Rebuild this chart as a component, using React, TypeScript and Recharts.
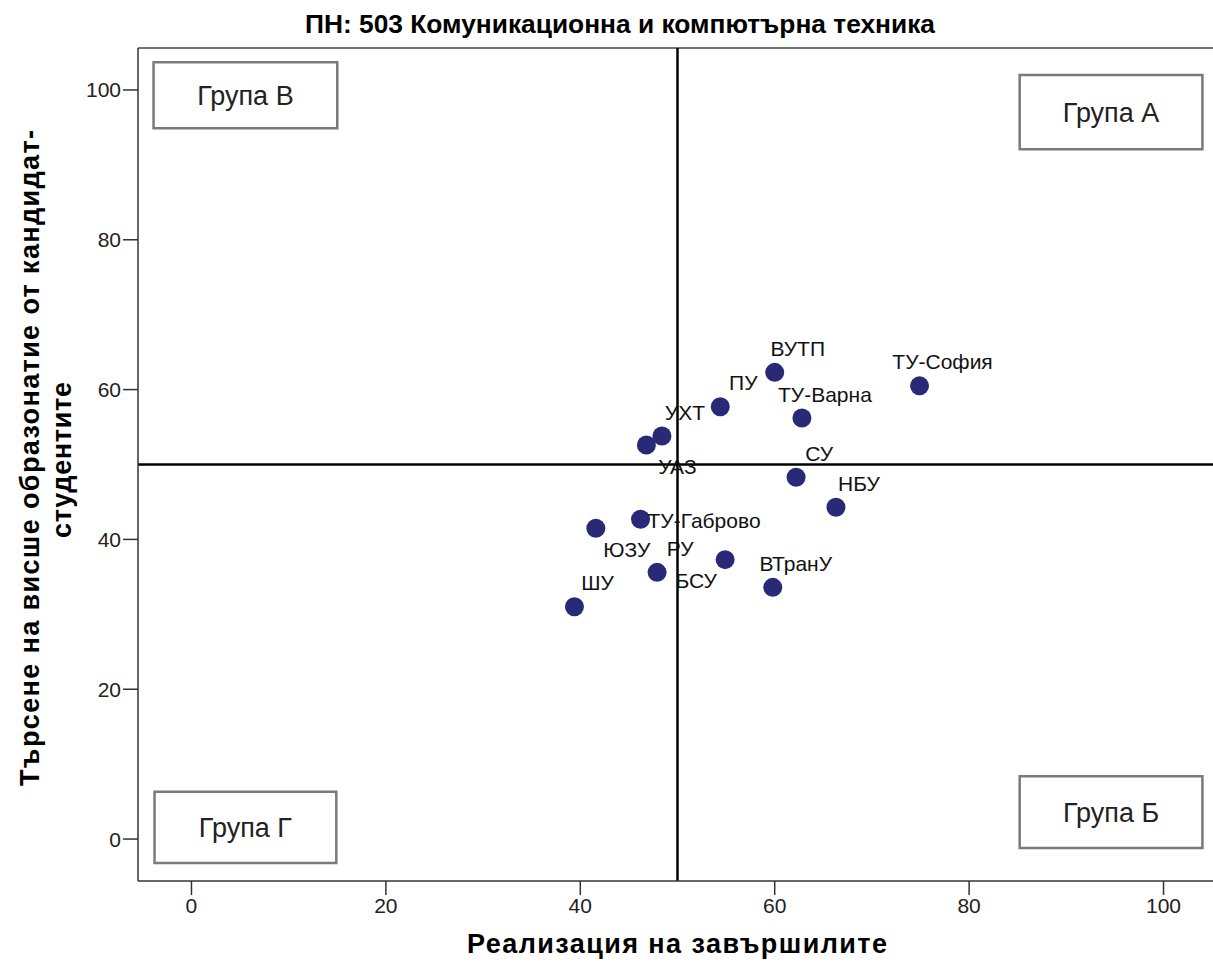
import { ScatterChart, Scatter, XAxis, YAxis, ReferenceLine, ReferenceArea } from "recharts";

const universities = [
  "ТУ-София",
  "ВУТП",
  "ТУ-Варна",
  "ПУ",
  "УХТ",
  "УАЗ",
  "СУ",
  "НБУ",
  "ТУ-Габрово",
  "ЮЗУ",
  "РУ",
  "БСУ",
  "ВТранУ",
  "ШУ",
];
// Реализация на завършилите
const realization = [74.9, 60.0, 62.8, 54.4, 48.4, 46.8, 62.2, 66.3, 46.2, 41.6, 47.9, 54.9, 59.8, 39.4];
// Търсене на висше образование от кандидат-студентите
const demand = [60.5, 62.3, 56.2, 57.7, 53.8, 52.6, 48.3, 44.3, 42.7, 41.5, 35.6, 37.3, 33.6, 31.0];

const xTicks = [0, 20, 40, 60, 80, 100];
const yTicks = [0, 20, 40, 60, 80, 100];

// where each point label sits relative to its marker
const labelSide: Record<string, string> = {
  "УАЗ": "se",
  "ЮЗУ": "se",
  "БСУ": "sw",
  "ТУ-Габрово": "e",
};

const FONT = "'Liberation Sans', Arial, sans-serif";
const DOT = "#282a78";

const data = universities.map((name, i) => ({ name, x: realization[i], y: demand[i] }));

function Dot(props: any) {
  const { cx, cy, payload } = props;
  const side = labelSide[payload.name] || "ne";
  let tx = cx + 23;
  let ty = cy - 24;
  let anchor: "middle" | "start" = "middle";
  if (side === "se") {
    tx = cx + 31;
    ty = cy + 21;
  } else if (side === "sw") {
    tx = cx - 29;
    ty = cy + 21;
  } else if (side === "e") {
    tx = cx + 7;
    ty = cy + 1;
    anchor = "start";
  }
  return (
    <g>
      <circle cx={cx} cy={cy} r={9.5} fill={DOT} />
      <text
        x={tx}
        y={ty}
        textAnchor={anchor}
        dominantBaseline="central"
        fontSize={21}
        fontFamily={FONT}
        fill="#111"
      >
        {payload.name}
      </text>
    </g>
  );
}

const boxStyle = {
  fill: "#fff",
  fillOpacity: 1,
  stroke: "#7a7a7a",
  strokeWidth: 2.5,
};

const boxLabel = (value: string) => ({
  value,
  position: "center" as const,
  fontSize: 27,
  fill: "#222",
  fontFamily: FONT,
});

export default function App() {
  return (
    <div
      style={{
        position: "absolute",
        left: 0,
        top: 0,
        width: 1213,
        height: 969,
        overflow: "hidden",
        background: "#fff",
      }}
    >
      <ScatterChart width={1217} height={969} margin={{ top: 48, right: 0, bottom: 0, left: 0 }}>
        <XAxis
          type="number"
          dataKey="x"
          domain={[-5.5, 105.5]}
          ticks={xTicks}
          allowDataOverflow
          height={88}
          tickSize={14}
          tickMargin={3}
          tick={{ fontSize: 21, fill: "#222", fontFamily: FONT }}
          axisLine={{ stroke: "#333", strokeWidth: 1.5 }}
          tickLine={{ stroke: "#333", strokeWidth: 1.5 }}
        />
        <YAxis
          type="number"
          dataKey="y"
          domain={[-5.6, 105.6]}
          ticks={yTicks}
          allowDataOverflow
          width={138}
          tickSize={15}
          tickMargin={2}
          tick={{ fontSize: 21, fill: "#222", fontFamily: FONT }}
          axisLine={{ stroke: "#333", strokeWidth: 1.5 }}
          tickLine={{ stroke: "#333", strokeWidth: 1.5 }}
        />
        <ReferenceLine y={105.6} stroke="#444" strokeWidth={1.5} />
        <ReferenceArea x1={-3.9} x2={15.0} y1={94.9} y2={103.7} {...boxStyle} label={boxLabel("Група В")} />
        <ReferenceArea x1={85.2} x2={104.0} y1={92.1} y2={102.0} {...boxStyle} label={boxLabel("Група А")} />
        <ReferenceArea x1={-3.8} x2={14.9} y1={-3.2} y2={6.3} {...boxStyle} label={boxLabel("Група Г")} />
        <ReferenceArea x1={85.2} x2={104.0} y1={-1.2} y2={8.4} {...boxStyle} label={boxLabel("Група Б")} />
        <Scatter data={data} shape={Dot} isAnimationActive={false} />
        <ReferenceLine x={50} stroke="#000" strokeWidth={2.5} />
        <ReferenceLine y={50} stroke="#000" strokeWidth={2.5} />
      </ScatterChart>
      <svg
        width={1213}
        height={969}
        style={{ position: "absolute", left: 0, top: 0, pointerEvents: "none" }}
      >
        <text
          x={620}
          y={33}
          textAnchor="middle"
          fontSize={25}
          fontWeight="bold"
          fontFamily={FONT}
          fill="#000"
          textLength={630}
          lengthAdjust="spacingAndGlyphs"
        >
          ПН: 503 Комуникационна и компютърна техника
        </text>
        <text
          x={677}
          y={953}
          textAnchor="middle"
          fontSize={27}
          fontWeight="bold"
          fontFamily={FONT}
          fill="#000"
          textLength={420}
          lengthAdjust="spacing"
        >
          Реализация на завършилите
        </text>
        <text
          transform="translate(39, 458) rotate(-90)"
          textAnchor="middle"
          fontSize={27}
          fontWeight="bold"
          fontFamily={FONT}
          fill="#000"
          textLength={656}
          lengthAdjust="spacing"
        >
          Търсене на висше образонатие от кандидат-
        </text>
        <text
          transform="translate(71, 460) rotate(-90)"
          textAnchor="middle"
          fontSize={27}
          fontWeight="bold"
          fontFamily={FONT}
          fill="#000"
          textLength={156}
          lengthAdjust="spacing"
        >
          студентите
        </text>
      </svg>
    </div>
  );
}
